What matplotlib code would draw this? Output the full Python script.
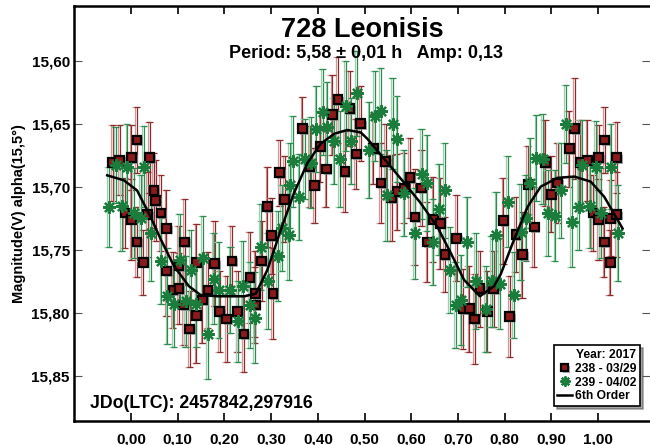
import matplotlib
matplotlib.use("Agg")
import matplotlib.pyplot as plt
import matplotlib.patheffects as pe
from matplotlib.ticker import FuncFormatter, FixedLocator

plt.rcParams["font.family"] = ["Liberation Sans", "DejaVu Sans"]
plt.rcParams["font.weight"] = "bold"

# session 238 - 03/29
phase_238 = [-0.039, -0.024, 0.001, 0.013, 0.040, 0.049, 0.053, 0.036, 0.064, -0.013,
             0.001, 0.076, 0.013, 0.115, 0.026, 0.076, 0.103, 0.140, 0.179, 0.090,
             0.103, 0.113, 0.140, 0.165, 0.153, 0.190, 0.126, 0.216, 0.205, 0.228,
             0.242, 0.255, 0.266, 0.266, 0.280, 0.304, 0.301, 0.292, 0.318, 0.329,
             0.393, 0.383, 0.367, 0.405, 0.418, 0.431, 0.443, 0.469, 0.458, 0.482,
             0.492, 0.519, 0.545, 0.535, 0.558, 0.570, 0.585, 0.597, 0.608, 0.622,
             0.634, 0.647, 0.662, 0.672, 0.697, 0.711, 0.724, 0.736, 0.747, 0.763,
             0.776, 0.797, 0.811, 0.824, 0.838, 0.863, 0.850, 0.887, 0.900, 0.913,
             0.938, 0.950, 0.961, 0.977, 0.989, 1.001, 1.001, 1.014, 1.013, 1.026,
             1.027, 1.040, 1.040]
mag_238 = [15.681, 15.679, 15.677, 15.663, 15.677, 15.703, 15.711, 15.722, 15.721, 15.721,
           15.726, 15.733, 15.744, 15.744, 15.760, 15.767, 15.763, 15.760, 15.761, 15.782,
           15.781, 15.794, 15.802, 15.782, 15.790, 15.799, 15.813, 15.759, 15.805, 15.799,
           15.817, 15.772, 15.785, 15.794, 15.759, 15.785, 15.739, 15.716, 15.689, 15.710,
           15.699, 15.684, 15.654, 15.668, 15.686, 15.643, 15.631, 15.638, 15.688, 15.674,
           15.650, 15.670, 15.680, 15.697, 15.709, 15.704, 15.701, 15.693, 15.724, 15.701,
           15.744, 15.726, 15.729, 15.754, 15.741, 15.797, 15.797, 15.805, 15.781, 15.799,
           15.781, 15.727, 15.803, 15.738, 15.754, 15.732, 15.698, 15.681, 15.706, 15.697,
           15.670, 15.654, 15.681, 15.679, 15.721, 15.726, 15.677, 15.663, 15.744, 15.760,
           15.725, 15.677, 15.722]
err_238 = [0.030, 0.028, 0.026, 0.026, 0.028, 0.030, 0.032, 0.034, 0.030, 0.028,
           0.032, 0.030, 0.028, 0.034, 0.026, 0.036, 0.032, 0.030, 0.034, 0.030,
           0.028, 0.032, 0.038, 0.030, 0.034, 0.032, 0.030, 0.028, 0.034, 0.032,
           0.030, 0.036, 0.034, 0.030, 0.032, 0.036, 0.030, 0.032, 0.026, 0.034,
           0.030, 0.032, 0.025, 0.028, 0.030, 0.032, 0.034, 0.030, 0.032, 0.028,
           0.030, 0.028, 0.030, 0.032, 0.034, 0.030, 0.028, 0.032, 0.038, 0.030,
           0.032, 0.034, 0.036, 0.030, 0.034, 0.032, 0.034, 0.036, 0.030, 0.032,
           0.030, 0.034, 0.032, 0.030, 0.034, 0.032, 0.030, 0.034, 0.030, 0.032,
           0.030, 0.040, 0.034, 0.032, 0.030, 0.032, 0.026, 0.026, 0.028, 0.026,
           0.030, 0.028, 0.034]

# session 239 - 04/02
phase_239 = [-0.047, -0.020, -0.033, -0.008, 0.028, 0.006, 0.021, 0.043, 0.065, 0.104,
             0.128, 0.154, 0.178, 0.078, 0.092, 0.117, 0.140, 0.165, 0.189, 0.213,
             0.240, 0.255, 0.229, 0.265, 0.278, 0.293, 0.315, 0.323, 0.338, 0.340,
             0.347, 0.360, 0.372, 0.385, 0.397, 0.410, 0.420, 0.435, 0.447, 0.460,
             0.472, 0.483, 0.522, 0.535, 0.560, 0.570, 0.510, 0.547, 0.585, 0.622,
             0.634, 0.608, 0.647, 0.660, 0.672, 0.683, 0.720, 0.695, 0.707, 0.738,
             0.760, 0.772, 0.782, 0.790, 0.820, 0.807, 0.834, 0.846, 0.855, 0.868,
             0.881, 0.893, 0.908, 0.920, 0.931, 0.944, 0.958, 0.966, 0.983, 0.995,
             1.006, 1.028, 1.043]
mag_239 = [15.716, 15.715, 15.683, 15.684, 15.684, 15.721, 15.725, 15.737, 15.759, 15.758,
           15.766, 15.757, 15.773, 15.787, 15.793, 15.791, 15.793, 15.817, 15.782, 15.782,
           15.779, 15.794, 15.807, 15.804, 15.748, 15.775, 15.755, 15.733, 15.738, 15.699,
           15.680, 15.708, 15.678, 15.681, 15.654, 15.641, 15.653, 15.664, 15.678, 15.636,
           15.664, 15.626, 15.644, 15.640, 15.650, 15.662, 15.671, 15.707, 15.705, 15.690,
           15.697, 15.737, 15.744, 15.718, 15.703, 15.766, 15.744, 15.794, 15.790, 15.775,
           15.797, 15.775, 15.738, 15.777, 15.786, 15.712, 15.736, 15.725, 15.697, 15.677,
           15.678, 15.721, 15.723, 15.703, 15.650, 15.728, 15.716, 15.683, 15.715, 15.684,
           15.721, 15.684, 15.737]
err_239 = [0.032, 0.036, 0.030, 0.034, 0.032, 0.036, 0.034, 0.038, 0.034, 0.036,
           0.032, 0.034, 0.036, 0.038, 0.034, 0.036, 0.034, 0.036, 0.038, 0.034,
           0.036, 0.034, 0.032, 0.036, 0.034, 0.038, 0.036, 0.034, 0.036, 0.034,
           0.036, 0.034, 0.032, 0.036, 0.034, 0.034, 0.036, 0.034, 0.038, 0.036,
           0.034, 0.034, 0.036, 0.034, 0.036, 0.034, 0.038, 0.036, 0.034, 0.036,
           0.038, 0.036, 0.034, 0.036, 0.038, 0.034, 0.036, 0.034, 0.036, 0.038,
           0.034, 0.036, 0.034, 0.036, 0.034, 0.036, 0.038, 0.034, 0.036, 0.034,
           0.036, 0.034, 0.036, 0.038, 0.031, 0.036, 0.034, 0.036, 0.034, 0.036,
           0.036, 0.034, 0.038]

# 6th order Fourier fit, sampled
fit_phase = [-0.051, -0.015, 0.013, 0.042, 0.064, 0.092, 0.124, 0.149, 0.185, 0.242,
             0.267, 0.292, 0.321, 0.349, 0.378, 0.406, 0.435, 0.463, 0.492, 0.506,
             0.549, 0.585, 0.620, 0.656, 0.685, 0.713, 0.747, 0.777, 0.792, 0.820,
             0.849, 0.877, 0.913, 0.949, 0.984, 1.013, 1.052]
fit_mag = [15.691, 15.695, 15.703, 15.724, 15.742, 15.763, 15.779, 15.786, 15.787, 15.787,
           15.785, 15.766, 15.734, 15.705, 15.681, 15.666, 15.658, 15.655, 15.657, 15.662,
           15.681, 15.697, 15.713, 15.732, 15.753, 15.774, 15.787, 15.779, 15.769, 15.742,
           15.716, 15.700, 15.693, 15.692, 15.696, 15.708, 15.733]

x_ticks = [0.0, 0.1, 0.2, 0.3, 0.4, 0.5, 0.6, 0.7, 0.8, 0.9, 1.0]
y_ticks = [15.60, 15.65, 15.70, 15.75, 15.80, 15.85]

RED = "#8b1a1a"
RED_BAR = "#8e2a2a"
RED_BAR_LIGHT = "#cf9a9a"
GREEN = "#1b7d3c"
GREEN_BAR = "#2e8b50"
GREEN_BAR_LIGHT = "#9dd0ac"

fig = plt.figure(figsize=(6.5, 4.45), dpi=100)
ax = fig.add_axes([74 / 650, 24 / 445, 576 / 650, 415 / 445])

bar_shadow = lambda c: [pe.SimpleLineShadow(offset=(-1.2, 0), shadow_color=c, alpha=1.0), pe.Normal()]

for ph, mg, er, c, cl in [(phase_238, mag_238, err_238, RED_BAR, RED_BAR_LIGHT),
                          (phase_239, mag_239, err_239, GREEN_BAR, GREEN_BAR_LIGHT)]:
    _, caps, bars = ax.errorbar(ph, mg, yerr=er, fmt="none", ecolor=c, elinewidth=0.9,
                                capsize=2.3, capthick=0.9, zorder=2)
    for b in bars:
        b.set_path_effects(bar_shadow(cl))
    for cp in caps:
        cp.set_path_effects(bar_shadow(cl))

marker_shadow = [pe.SimplePatchShadow(offset=(1.2, -1.2), shadow_rgbFace="#909090", alpha=0.7),
                 pe.Normal()]
ax.plot(phase_238, mag_238, linestyle="none", marker="s", markersize=6.3,
        markerfacecolor=RED, markeredgecolor="black", markeredgewidth=1.6,
        zorder=3, path_effects=marker_shadow, label="238 - 03/29")
ax.plot(phase_239, mag_239, linestyle="none", marker=(8, 2, 0), markersize=9,
        color=GREEN, markeredgewidth=1.6, zorder=4, label="239 - 04/02")
ax.plot(fit_phase, fit_mag, color="black", linewidth=1.8, zorder=5, label="6th Order")

ax.set_xlim(-0.122, 1.111)
ax.set_ylim(15.886, 15.5566)

comma = lambda fmt: FuncFormatter(lambda v, _: format(v, fmt).replace(".", ","))
ax.xaxis.set_major_locator(FixedLocator(x_ticks))
ax.yaxis.set_major_locator(FixedLocator(y_ticks))
ax.xaxis.set_major_formatter(comma(".2f"))
ax.yaxis.set_major_formatter(comma(".2f"))
ax.tick_params(axis="x", direction="in", top=True, bottom=True, length=6, width=1.2,
               labelsize=11, pad=8)
ax.tick_params(axis="y", direction="in", left=True, right=True, length=6, width=0.8,
               color="#555555", labelsize=11, pad=3)
for s in ("left", "bottom", "top"):
    ax.spines[s].set_linewidth(1.8)
ax.spines["right"].set_visible(False)

ax.set_ylabel("Magnitude(V) alpha(15,5°)", fontsize=10.5, fontweight="bold", labelpad=4)

fig.text(0.557, 0.933, "728 Leonisis", ha="center", va="center", fontsize=19.5,
         fontweight="bold")
fig.text(0.563, 0.879, "Period: 5,58 \u00b1 0,01 h   Amp: 0,13", ha="center",
         va="center", fontsize=13, fontweight="bold")
fig.text(0.138, 0.094, "JDo(LTC): 2457842,297916", ha="left", va="center",
         fontsize=12.8, fontweight="bold")

leg = ax.legend(loc="lower right", bbox_to_anchor=(640 / 650, 39 / 445),
                bbox_transform=fig.transFigure, borderaxespad=0, title="Year: 2017",
                title_fontproperties={"weight": "bold", "size": 8.7}, alignment="right",
                prop={"weight": "bold", "size": 8.7}, frameon=True, fancybox=False,
                shadow=True, edgecolor="black", handlelength=1.2, handletextpad=0.25,
                borderpad=0.3, labelspacing=0.15, markerscale=0.8)
leg.get_frame().set_linewidth(1.2)

fig.savefig("out.png", dpi=100)
